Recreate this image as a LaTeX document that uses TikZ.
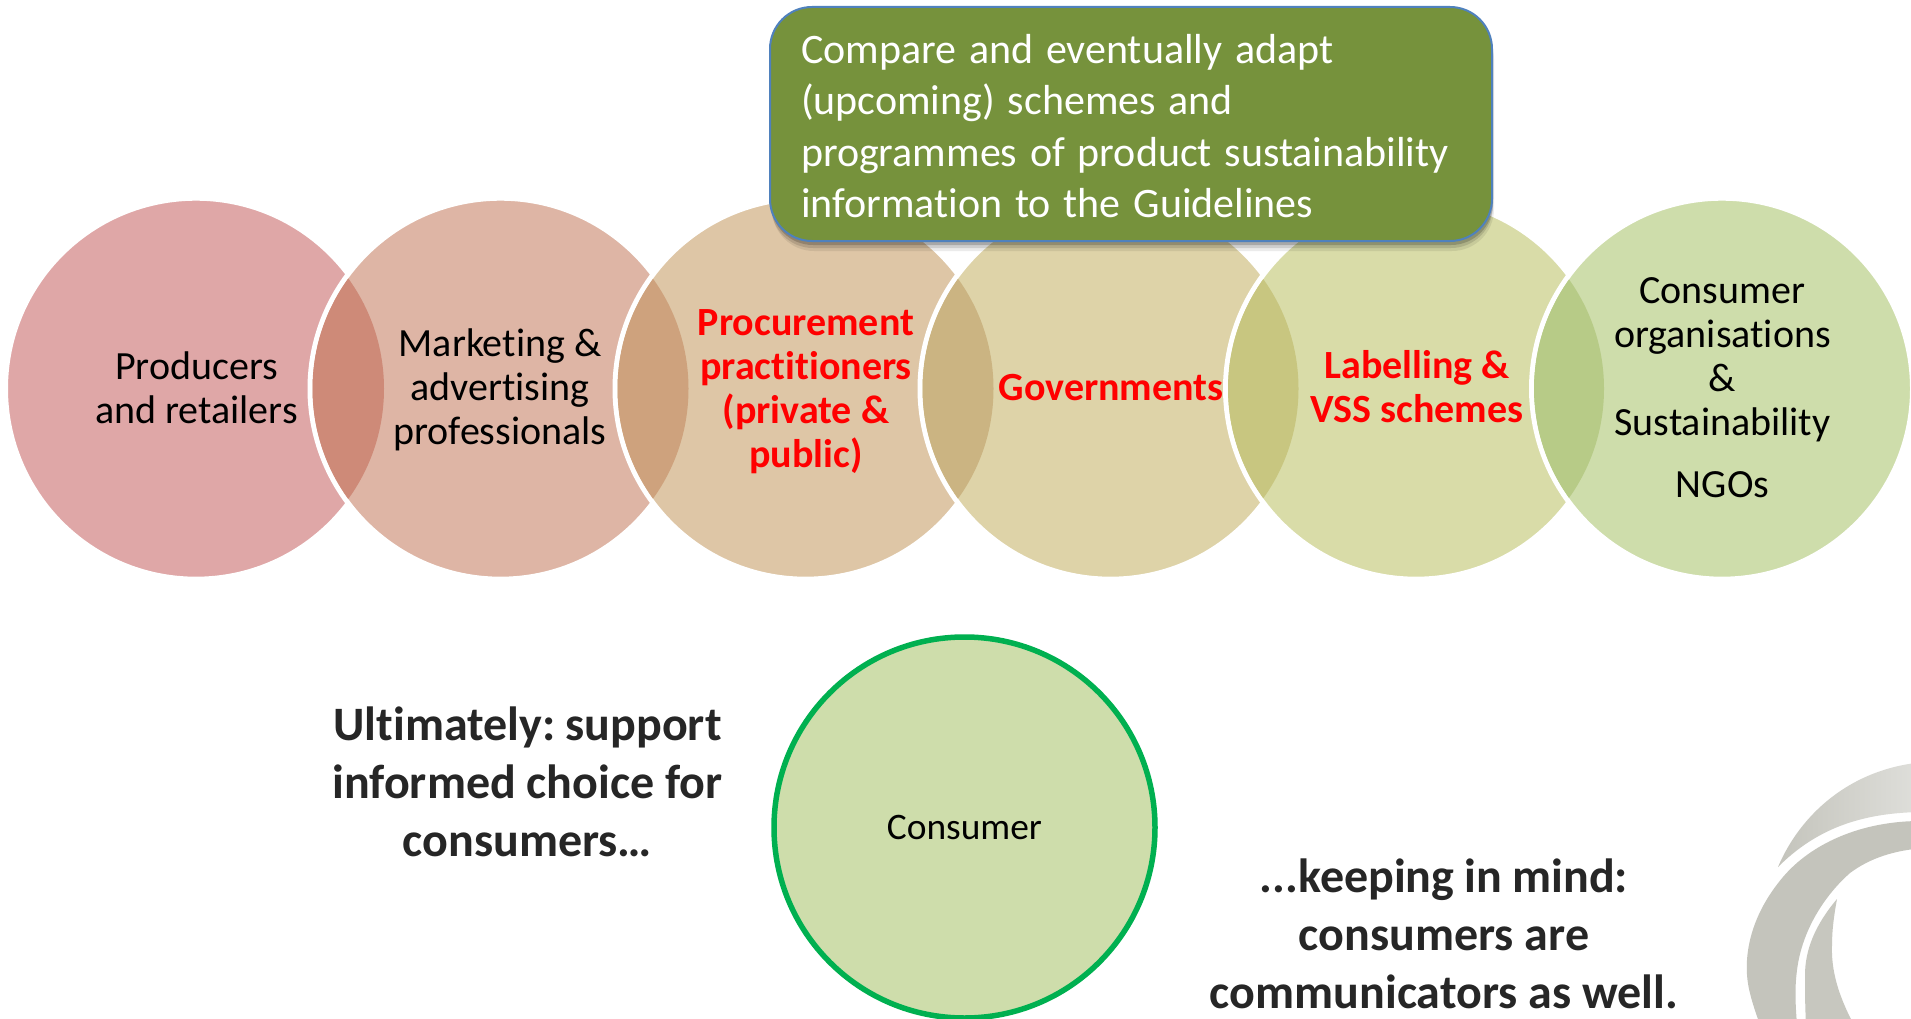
\documentclass[tikz,border=0pt]{standalone}
\usepackage{fontspec}
\setmainfont{Carlito}[Ligatures=NoCommon]
\usetikzlibrary{shadows}
\definecolor{cA}{HTML}{DFA7A7}
\definecolor{cB}{HTML}{DEB5A5}
\definecolor{cC}{HTML}{DEC6A6}
\definecolor{cD}{HTML}{DED3A8}
\definecolor{cE}{HTML}{D9DCA8}
\definecolor{cF}{HTML}{CEDDAB}
\definecolor{lA}{HTML}{CE8A78}
\definecolor{lB}{HTML}{CEA27D}
\definecolor{lC}{HTML}{CBB482}
\definecolor{lD}{HTML}{C8C680}
\definecolor{lE}{HTML}{B7CB87}
\definecolor{boxgreen}{HTML}{76923C}
\definecolor{boxline}{HTML}{4F81BD}
\definecolor{ringgreen}{HTML}{00B050}
\definecolor{dark}{HTML}{262626}
\definecolor{redtext}{HTML}{FF0000}
\definecolor{logoA}{HTML}{C4C4BC}
\definecolor{logoB}{HTML}{E0E0DC}
\newcommand{\boxfontsetup}{\fontsize{42}{51.5}\selectfont\frenchspacing}
\newcommand{\boldfontsetup}{\fontsize{48}{58}\selectfont\bfseries\frenchspacing}
\newcommand{\tightwords}[1]{\spaceskip=#1em\relax}
\tikzset{
  x=1pt,y=-1pt,
  disc/.style={circle,draw=white,line width=5pt,minimum size=381pt,inner sep=0pt,fill=#1},
  lbl/.style={align=center,font=\fontsize{40}{44}\selectfont\frenchspacing,text=black,inner sep=0pt},
  redlbl/.style={align=center,font=\fontsize{40}{44}\selectfont\bfseries\frenchspacing,text=redtext,inner sep=0pt},
  bigbold/.style={align=center,font=\boldfontsetup,text=dark,inner sep=0pt},
  softshadow/.style={general shadow={fill=black,fill opacity=#1,shadow yshift=-4pt,shadow xshift=1pt,shadow scale=1}},
  softshadowb/.style={general shadow={fill=black,fill opacity=#1,shadow yshift=-7pt,shadow xshift=1pt}},
  softshadowc/.style={general shadow={fill=black,fill opacity=#1,shadow yshift=-10pt,shadow xshift=2pt}},
  greenbox/.style={rectangle,rounded corners=42pt,draw=boxline,line width=2pt,fill=boxgreen,
    minimum width=722pt,minimum height=234pt,text width=660pt,inner sep=0pt,align=left,
    text=white,font=\boxfontsetup,
    softshadowc=0.08,softshadowb=0.12,softshadow=0.18},
  bigdisc/.style={circle,draw=ringgreen,line width=5.5pt,fill=cF,minimum size=381pt,inner sep=0pt,
    font=\fontsize{37.4}{44}\selectfont,text=black},
  lens/.style={fill=#1,draw=none}
}
\begin{document}
\begin{tikzpicture}
\useasboundingbox (0,0) rectangle (1911,1019);
\fill[white] (0,0) rectangle (1911,1019);
% logo
\begin{scope}
\clip (0,0) rectangle (1911,1019);
\shade[left color=logoA,right color=logoB,draw=none]
  (1778,867) .. controls (1800,815) and (1850,768) .. (1925,762)
  -- (1925,812) .. controls (1860,812) and (1815,830) .. (1778,867) -- cycle;
\fill[logoA] (1925,821) .. controls (1860,820) and (1810,845) .. (1783,877)
  .. controls (1755,910) and (1745,945) .. (1747,975)
  .. controls (1748,990) and (1753,1005) .. (1760,1025)
  -- (1797,1025) .. controls (1795,1000) and (1795,985) .. (1797,970)
  .. controls (1802,930) and (1825,895) .. (1850,873)
  .. controls (1870,858) and (1895,850) .. (1925,848) -- cycle;
\fill[logoA!95!white] (1837,899) .. controls (1815,925) and (1805,950) .. (1805,975)
  .. controls (1805,990) and (1805,1005) .. (1806,1025)
  -- (1854,1025) .. controls (1838,995) and (1831,970) .. (1832,945)
  .. controls (1832,930) and (1834,915) .. (1837,899) -- cycle;
\end{scope}
% circles
\node[disc=cA] (c1) at (196,388.7) {};
\node[disc=cB] (c2) at (500.5,388.7) {};
\begin{scope}\clip (c1.center) circle[radius=188];\fill[lens=lA] (c2.center) circle[radius=188];\end{scope}
\node[disc=cC] (c3) at (805.5,388.7) {};
\begin{scope}\clip (c2.center) circle[radius=188];\fill[lens=lB] (c3.center) circle[radius=188];\end{scope}
\node[disc=cD] (c4) at (1110.5,388.7) {};
\begin{scope}\clip (c3.center) circle[radius=188];\fill[lens=lC] (c4.center) circle[radius=188];\end{scope}
\node[disc=cE] (c5) at (1416,388.7) {};
\begin{scope}\clip (c4.center) circle[radius=188];\fill[lens=lD] (c5.center) circle[radius=188];\end{scope}
\node[disc=cF] (c6) at (1722,388.7) {};
\begin{scope}\clip (c5.center) circle[radius=188];\fill[lens=lE] (c6.center) circle[radius=188];\end{scope}
% labels
\node[lbl] (t1) at (196.5,387.3) {Producers\\and retailers};
\node[lbl] (t2) at (500,390.2) {Marketing \&\\advertising\\professionals};
\node[redlbl] (t3) at (806,391.2) {Procurement\\practitioners\\(private \&\\public)};
\node[redlbl] (t4) at (1111,388) {Governments};
\node[redlbl] (t5) at (1417,387) {Labelling \&\\VSS schemes};
\node[lbl] (t6) at (1722.5,388) {Consumer\\organisations\\\&\\Sustainability\\[18pt]NGOs};
% top box
\node[greenbox] (box) at (1131,124) {\tightwords{.305}\rule{0pt}{33.6pt}Compare and eventually adapt\\(upcoming) schemes and\\programmes of product sustainability\\information to the Guidelines};
% consumer
\node[bigdisc] (consumer) at (964.5,827.5) {Consumer};
\node[bigbold] (left) at (527.5,782) {\tightwords{.215}Ultimately: support\\informed choice for\\consumers…};
\node[bigbold] (right) at (1444,934) {\tightwords{.215}...keeping in mind:\\consumers are\\communicators as well.};
\end{tikzpicture}
\end{document}
